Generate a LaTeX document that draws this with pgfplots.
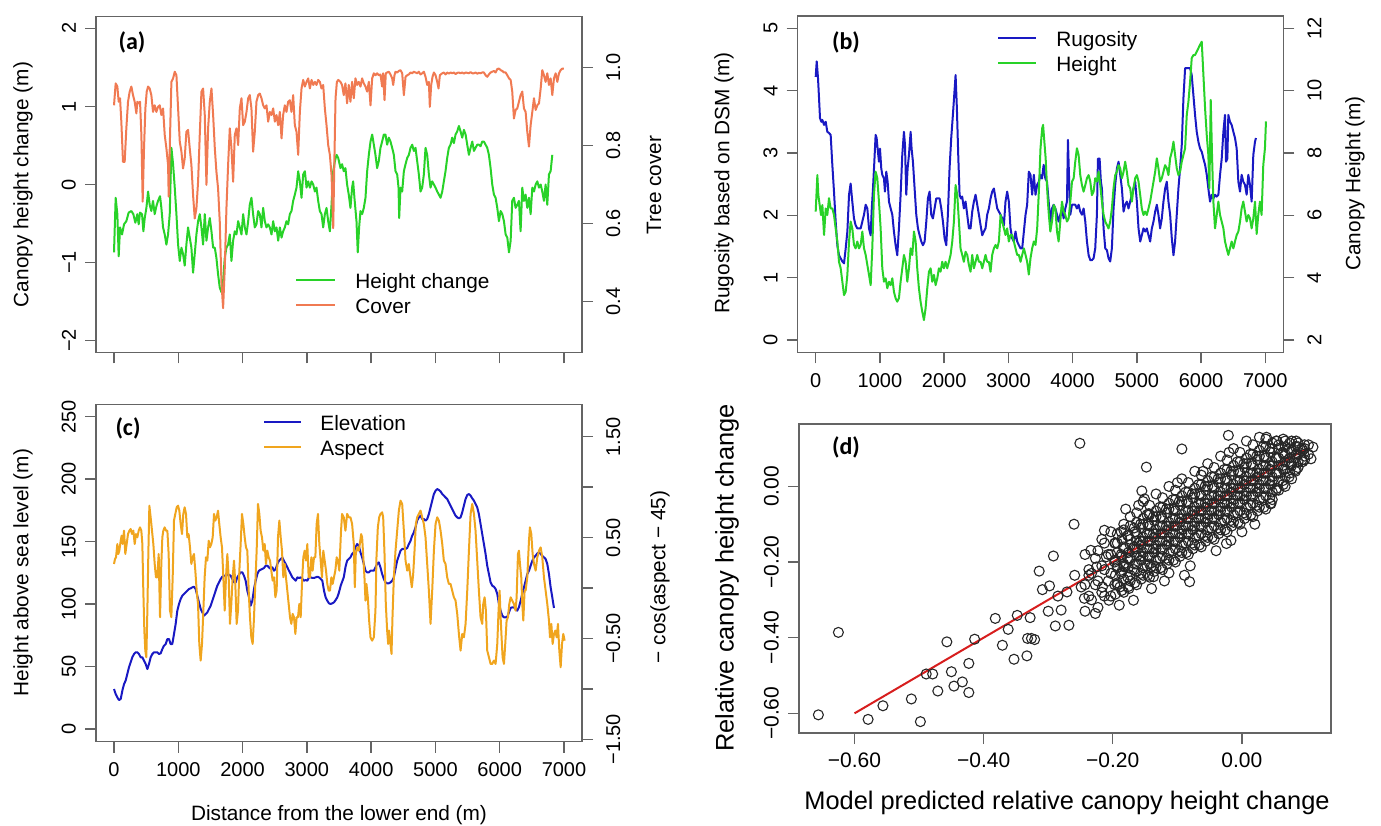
\documentclass[border=0pt]{standalone}
\usepackage{fontspec}
\setmainfont{Liberation Sans}
\newfontfamily\plab{Carlito}
\usepackage{pgfplots}
\pgfplotsset{compat=1.18}

\definecolor{hgreen}{RGB}{40,210,40}
\definecolor{coverc}{RGB}{240,122,82}
\definecolor{rblue}{RGB}{25,25,195}
\definecolor{aspc}{RGB}{240,165,30}
\definecolor{fitred}{RGB}{215,30,30}
\definecolor{frame}{RGB}{100,100,100}

\pgfplotsset{
  base/.style={scale only axis, anchor=south west, tick align=outside, major tick length=5.5pt,
    axis line style={draw=frame, line width=0.7pt},
    every tick/.append style={draw=frame, line width=0.7pt},
    tick label style={font=\fontsize{10}{12}\selectfont},
    xmin=-280, xmax=7280, xtick={0,1000,...,7000}},
  leftbox/.style={base, xtick pos=left, ytick pos=left,
    yticklabel style={rotate=90, anchor=south}, yticklabel shift=1pt, xticklabel shift=1.5pt},
  rightax/.style={base, axis x line=none, axis y line*=right,
    yticklabel style={rotate=90, anchor=north}, yticklabel shift=3pt},
  ser/.style={line width=1pt, line join=round},
}

\begin{document}
\begin{tikzpicture}
\useasboundingbox (0,0) rectangle (690.5pt,412.5pt);

% ---------------- (a)
\begin{axis}[leftbox, at={(48pt,236.35pt)}, width=243pt, height=167.8pt,
  ymin=-2.15, ymax=2.15, ytick={-2,-1,0,1,2}, yticklabels={−2,−1,0,1,2}, xticklabels={,,,,,,,}]
\addplot[ser, hgreen] coordinates {
(0,-0.87) (26,-0.17) (52,-0.38) (73,-0.92) (94,-0.55) (125,-0.64) (156,-0.51) (192,-0.47) (228,-0.36) (270,-0.34)
(301,-0.38) (332,-0.49) (363,-0.38) (384,-0.51) (405,-0.36) (436,-0.38) (457,-0.60) (478,-0.43) (504,-0.30) (530,-0.09)
(555,-0.26) (581,-0.34) (607,-0.21) (633,-0.38) (659,-0.28) (685,-0.21) (716,-0.15) (737,-0.30) (763,-0.55) (789,-0.64)
(815,-0.77) (841,-0.64) (867,-0.38) (893,0.47) (919,0.26) (945,-0.04) (971,-0.38) (997,-0.77) (1023,-0.98) (1049,-0.81)
(1074,-0.89) (1100,-1.04) (1126,-0.77) (1152,-0.55) (1178,-0.68) (1204,-0.81) (1230,-1.13) (1256,-0.89) (1282,-0.64) (1308,-0.47)
(1334,-0.38) (1360,-0.55) (1386,-0.77) (1412,-0.38) (1438,-0.72) (1464,-0.55) (1490,-0.43) (1516,-0.60) (1542,-0.81) (1568,-0.81)
(1593,-0.94) (1619,-1.15) (1645,-1.32) (1671,-1.38) (1697,-1.24) (1723,-0.94) (1749,-0.81) (1775,-0.77) (1801,-0.64) (1827,-0.98)
(1853,-0.72) (1879,-0.60) (1905,-0.64) (1931,-0.47) (1957,-0.55) (1983,-0.64) (2009,-0.38) (2035,-0.55) (2061,-0.64) (2087,-0.47)
(2112,-0.26) (2138,-0.17) (2164,-0.38) (2190,-0.55) (2216,-0.51) (2242,-0.34) (2268,-0.38) (2294,-0.55) (2320,-0.30) (2346,-0.47)
(2372,-0.55) (2398,-0.51) (2424,-0.55) (2450,-0.64) (2476,-0.47) (2502,-0.60) (2528,-0.55) (2554,-0.72) (2580,-0.55) (2606,-0.68)
(2631,-0.60) (2657,-0.55) (2683,-0.47) (2709,-0.51) (2735,-0.38) (2761,-0.34) (2787,-0.21) (2813,-0.13) (2839,-0.04) (2865,0.17)
(2891,0.04) (2917,-0.17) (2943,0.13) (2969,0.17) (2995,-0.04) (3021,0.04) (3047,-0.04) (3073,0.04) (3099,0.00) (3125,-0.09)
(3150,-0.04) (3176,-0.21) (3202,-0.34) (3228,-0.38) (3254,-0.55) (3280,-0.38) (3306,-0.30) (3332,-0.47) (3358,-0.60) (3384,-0.26)
(3410,0.17) (3436,0.30) (3462,0.38) (3488,0.34) (3523,0.21) (3548,0.26) (3574,0.17) (3600,0.21) (3626,0.00) (3652,-0.13)
(3678,-0.30) (3704,-0.04) (3720,0.04) (3740,-0.17) (3772,-0.47) (3792,-0.87) (3813,-0.55) (3834,-0.34) (3860,-0.38) (3886,-0.30)
(3912,-0.17) (3938,0.17) (3964,0.38) (3990,0.55) (4016,0.64) (4042,0.51) (4067,0.38) (4093,0.21) (4119,0.30) (4145,0.47)
(4171,0.55) (4197,0.64) (4223,0.64) (4249,0.51) (4275,0.60) (4301,0.55) (4327,0.47) (4353,0.38) (4379,0.17) (4405,0.13)
(4426,-0.04) (4436,-0.43) (4457,-0.04) (4483,-0.09) (4509,0.17) (4535,0.26) (4561,0.34) (4587,0.38) (4613,0.47) (4639,0.51)
(4664,0.43) (4690,0.47) (4716,0.30) (4742,0.13) (4768,-0.09) (4794,-0.04) (4820,0.13) (4846,0.47) (4872,0.38) (4898,0.13)
(4924,-0.04) (4950,0.04) (4976,0.00) (5002,-0.04) (5028,-0.09) (5054,-0.13) (5080,-0.17) (5106,-0.09) (5131,0.04) (5157,0.17)
(5183,0.34) (5209,0.47) (5235,0.51) (5261,0.60) (5287,0.53) (5313,0.64) (5339,0.68) (5365,0.75) (5391,0.68) (5417,0.60)
(5443,0.70) (5469,0.64) (5495,0.51) (5521,0.38) (5547,0.47) (5573,0.55) (5599,0.43) (5624,0.47) (5650,0.51) (5676,0.51)
(5702,0.49) (5728,0.55) (5754,0.55) (5780,0.51) (5806,0.47) (5832,0.38) (5858,0.21) (5884,0.00) (5910,-0.13) (5936,-0.17)
(5962,-0.30) (5988,-0.47) (6014,-0.34) (6040,-0.38) (6066,-0.47) (6092,-0.64) (6118,-0.68) (6144,-0.87) (6170,-0.72) (6195,-0.21)
(6221,-0.17) (6247,-0.30) (6273,-0.26) (6299,-0.21) (6325,-0.60) (6351,-0.04) (6377,-0.21) (6403,-0.13) (6429,-0.30) (6455,-0.17)
(6481,-0.38) (6507,-0.04) (6533,-0.09) (6559,0.00) (6585,0.04) (6611,-0.04) (6637,0.00) (6662,-0.09) (6688,-0.21) (6714,0.00)
(6740,-0.26) (6766,0.13) (6792,0.17) (6818,0.38)
};
\end{axis}
\begin{axis}[rightax, at={(48pt,236.35pt)}, width=243pt, height=167.8pt,
  ymin=0.27, ymax=1.13, ytick={0.4,0.6,0.8,1.0}, yticklabels={0.4,0.6,0.8,1.0}]
\addplot[ser, coverc] coordinates {
(0,0.903) (26,0.959) (52,0.951) (73,0.912) (94,0.921) (114,0.861) (140,0.758) (166,0.758) (192,0.844) (218,0.912)
(244,0.938) (270,0.951) (296,0.929) (322,0.912) (348,0.882) (363,0.912) (384,0.908) (405,0.912) (426,0.827) (446,0.656)
(467,0.793) (488,0.895) (509,0.938) (530,0.951) (555,0.946) (581,0.929) (607,0.886) (633,0.903) (659,0.886) (685,0.899)
(711,0.903) (737,0.878) (763,0.895) (789,0.827) (815,0.793) (841,0.750) (851,0.669) (872,0.827) (893,0.963) (919,0.972)
(945,0.989) (971,0.980) (997,0.895) (1023,0.810) (1049,0.784) (1074,0.741) (1100,0.767) (1126,0.835) (1152,0.840) (1178,0.793)
(1204,0.750) (1230,0.673) (1256,0.613) (1282,0.639) (1308,0.707) (1334,0.827) (1360,0.938) (1386,0.946) (1412,0.878) (1438,0.699)
(1464,0.844) (1490,0.912) (1516,0.946) (1542,0.878) (1568,0.793) (1593,0.733) (1619,0.690) (1645,0.605) (1671,0.451) (1697,0.383)
(1723,0.485) (1749,0.639) (1775,0.750) (1801,0.844) (1827,0.793) (1853,0.707) (1879,0.827) (1905,0.844) (1931,0.801) (1957,0.895)
(1983,0.921) (2009,0.852) (2035,0.861) (2061,0.886) (2087,0.921) (2112,0.929) (2138,0.895) (2164,0.784) (2190,0.835) (2216,0.912)
(2242,0.929) (2268,0.933) (2294,0.921) (2320,0.903) (2346,0.895) (2372,0.903) (2398,0.861) (2424,0.886) (2450,0.878) (2476,0.895)
(2502,0.861) (2528,0.878) (2554,0.852) (2580,0.886) (2606,0.818) (2631,0.878) (2657,0.903) (2683,0.886) (2709,0.912) (2735,0.916)
(2761,0.886) (2787,0.929) (2813,0.852) (2839,0.835) (2865,0.776) (2891,0.886) (2917,0.946) (2943,0.968) (2969,0.951) (2995,0.963)
(3021,0.972) (3047,0.946) (3073,0.968) (3099,0.955) (3125,0.963) (3150,0.955) (3176,0.968) (3202,0.963) (3228,0.946) (3254,0.955)
(3280,0.895) (3306,0.852) (3332,0.801) (3358,0.776) (3384,0.724) (3410,0.588) (3425,0.733) (3446,0.921) (3467,0.963) (3488,0.968)
(3523,0.963) (3548,0.955) (3574,0.929) (3600,0.959) (3626,0.908) (3652,0.955) (3678,0.912) (3704,0.963) (3730,0.921) (3756,0.972)
(3782,0.955) (3808,0.963) (3834,0.951) (3860,0.972) (3886,0.959) (3912,0.951) (3938,0.938) (3964,0.963) (3990,0.903) (4016,0.972)
(4042,0.985) (4067,0.980) (4093,0.985) (4119,0.980) (4145,0.982) (4171,0.951) (4187,0.985) (4208,0.916) (4228,0.985) (4249,0.987)
(4275,0.989) (4301,0.982) (4327,0.972) (4343,0.955) (4363,0.980) (4379,0.989) (4405,0.987) (4431,0.991) (4457,0.993) (4483,0.985)
(4509,0.929) (4535,0.976) (4561,0.980) (4586,0.982) (4612,0.987) (4638,0.985) (4664,0.989) (4690,0.987) (4716,0.985) (4742,0.989)
(4768,0.982) (4794,0.985) (4820,0.989) (4846,0.976) (4872,0.955) (4898,0.963) (4913,0.899) (4934,0.955) (4955,0.976) (4976,0.987)
(5002,0.980) (5028,0.963) (5048,0.946) (5069,0.980) (5105,0.985) (5131,0.987) (5157,0.982) (5183,0.987) (5209,0.984) (5235,0.987)
(5261,0.985) (5287,0.987) (5313,0.983) (5339,0.986) (5365,0.987) (5391,0.985) (5417,0.987) (5443,0.984) (5469,0.987) (5495,0.986)
(5521,0.985) (5547,0.988) (5573,0.985) (5598,0.985) (5624,0.987) (5650,0.984) (5676,0.986) (5702,0.985) (5728,0.987) (5754,0.987)
(5780,0.980) (5806,0.976) (5832,0.982) (5858,0.987) (5884,0.989) (5910,0.991) (5936,0.987) (5962,0.996) (5988,0.997) (6014,0.993)
(6040,0.991) (6066,0.987) (6092,0.987) (6118,0.980) (6144,0.972) (6170,0.968) (6195,0.938) (6221,0.869) (6247,0.891) (6273,0.895)
(6299,0.912) (6325,0.929) (6351,0.938) (6377,0.895) (6403,0.886) (6429,0.835) (6455,0.797) (6481,0.852) (6507,0.886) (6533,0.921)
(6559,0.891) (6585,0.903) (6611,0.908) (6637,0.946) (6662,0.993) (6688,0.980) (6714,0.963) (6740,0.985) (6766,0.955) (6792,0.972)
(6818,0.929) (6844,0.972) (6870,0.985) (6896,0.963) (6922,0.985) (6948,0.993) (6974,0.997) (6999,0.997)
};
\end{axis}

% ---------------- (b)
\begin{axis}[leftbox, at={(398.85pt,236.25pt)}, width=242.8pt, height=168.35pt,
  ymin=-0.2, ymax=5.2, ytick={0,1,2,3,4,5}, yticklabels={0,1,2,3,4,5},
  xticklabels={0,1000,2000,3000,4000,5000,6000,7000}]
\addplot[ser, rblue] coordinates {
(0,4.22) (16,4.47) (36,4.20) (52,3.88) (67,3.56) (88,3.50) (104,3.53) (130,3.45) (156,3.50) (181,3.34)
(207,3.32) (233,3.29) (259,2.81) (285,2.38) (311,1.90) (337,1.52) (363,1.36) (389,1.31) (415,1.26) (441,1.23)
(467,1.47) (493,1.74) (519,2.33) (544,2.51) (570,2.22) (596,1.95) (622,1.84) (648,1.79) (674,1.79) (700,1.79)
(726,1.90) (752,2.01) (778,2.17) (804,2.11) (830,1.79) (856,1.68) (871,2.06) (892,2.43) (913,2.86) (933,3.29)
(949,3.24) (964,3.07) (985,2.86) (1001,3.07) (1021,2.75) (1037,2.65) (1063,2.59) (1078,2.38) (1099,2.70) (1120,2.54)
(1141,2.22) (1167,2.11) (1193,2.01) (1218,1.74) (1244,1.52) (1270,1.36) (1296,1.79) (1322,2.33) (1348,2.97) (1374,3.34)
(1390,3.13) (1410,2.33) (1431,2.75) (1452,2.97) (1478,3.34) (1493,3.07) (1514,2.86) (1540,2.43) (1566,2.01) (1592,1.79)
(1618,1.68) (1644,1.58) (1670,1.52) (1696,1.58) (1722,1.90) (1747,2.27) (1773,2.38) (1799,2.01) (1825,1.95) (1851,2.11)
(1877,2.27) (1903,2.27) (1929,2.27) (1955,2.11) (1981,1.90) (2007,1.63) (2033,1.52) (2058,2.01) (2084,2.75) (2110,3.24)
(2136,3.61) (2157,3.93) (2178,4.25) (2198,3.72) (2219,2.97) (2240,2.33) (2261,2.27) (2281,2.30) (2307,2.11) (2333,2.22)
(2359,2.01) (2385,1.79) (2411,1.79) (2437,2.06) (2463,2.22) (2489,2.33) (2515,2.17) (2541,2.01) (2567,1.84) (2593,1.68)
(2618,1.74) (2644,1.79) (2670,2.01) (2696,2.11) (2722,2.27) (2748,2.38) (2774,2.43) (2800,2.27) (2826,2.11) (2852,2.06)
(2878,2.01) (2904,1.95) (2930,1.84) (2955,2.22) (2981,2.38) (3007,2.22) (3033,1.79) (3059,1.63) (3085,1.58) (3111,1.74)
(3137,1.58) (3163,1.52) (3189,1.47) (3215,1.47) (3241,1.74) (3267,2.01) (3292,2.17) (3318,2.70) (3344,2.65) (3370,2.33)
(3396,2.65) (3422,2.33) (3448,2.49) (3474,2.54) (3498,2.65) (3523,2.59) (3549,2.81) (3575,2.59) (3601,2.54) (3627,2.22)
(3653,1.90) (3679,2.11) (3705,2.17) (3731,2.11) (3757,2.01) (3782,1.90) (3808,2.01) (3834,2.11) (3860,1.95) (3886,2.11)
(3912,2.22) (3927,3.21) (3943,2.65) (3964,2.01) (3990,2.17) (4016,2.17) (4041,2.17) (4067,2.11) (4093,2.17) (4119,2.06)
(4145,2.01) (4171,2.11) (4197,1.90) (4223,1.58) (4249,1.36) (4275,1.28) (4300,1.28) (4326,1.31) (4352,1.47) (4378,2.01)
(4394,2.91) (4420,2.91) (4440,2.54) (4456,2.43) (4482,1.79) (4508,1.47) (4534,1.44) (4559,1.31) (4585,1.26) (4611,1.47)
(4637,2.11) (4663,2.49) (4689,2.75) (4715,2.86) (4741,2.65) (4767,2.43) (4793,2.06) (4818,2.17) (4844,2.22) (4870,2.11)
(4896,2.22) (4922,2.33) (4948,2.43) (4974,2.54) (5000,2.22) (5026,1.79) (5052,1.58) (5077,1.68) (5103,1.79) (5129,1.74)
(5155,1.79) (5181,1.68) (5207,1.58) (5233,1.79) (5259,1.90) (5285,2.06) (5311,2.17) (5336,2.01) (5362,1.79) (5388,1.95)
(5414,2.22) (5440,2.43) (5466,2.54) (5492,2.22) (5518,2.01) (5544,1.63) (5570,1.36) (5595,1.58) (5621,2.01) (5647,2.43)
(5673,2.75) (5699,3.13) (5725,3.88) (5751,4.36) (5777,4.36) (5803,4.36) (5829,4.36) (5854,4.25) (5880,3.93) (5906,3.61)
(5932,3.34) (5958,3.18) (5984,3.07) (6010,3.02) (6036,2.91) (6062,2.81) (6088,2.65) (6113,2.43) (6139,2.22) (6165,2.33)
(6191,2.27) (6217,2.33) (6243,2.30) (6269,2.33) (6295,2.65) (6321,2.91) (6347,3.34) (6372,3.61) (6388,2.86) (6409,2.91)
(6424,3.61) (6450,3.50) (6476,3.45) (6502,3.34) (6528,3.24) (6554,3.07) (6580,2.54) (6606,2.38) (6631,2.65) (6657,2.54)
(6683,2.49) (6709,2.33) (6735,2.65) (6761,2.49) (6787,2.22) (6813,2.97) (6839,3.18) (6854,3.24)
};
\end{axis}
\begin{axis}[rightax, at={(398.85pt,236.25pt)}, width=242.8pt, height=168.35pt,
  ymin=1.6, ymax=12.4, ytick={2,4,6,8,10,12}, yticklabels={2,4,6,8,10,12}]
\addplot[ser, hgreen] coordinates {
(0,6.12) (26,7.29) (41,6.65) (62,6.33) (83,6.01) (104,6.33) (130,5.37) (156,6.22) (181,6.01) (207,6.55)
(233,6.22) (259,6.22) (285,6.01) (311,5.58) (337,5.16) (363,4.51) (389,4.30) (415,3.87) (441,3.44) (467,3.55)
(493,4.09) (519,5.16) (544,5.80) (570,5.58) (596,5.05) (622,4.94) (648,5.16) (674,4.94) (700,5.05) (726,5.48)
(752,4.94) (778,4.73) (804,4.41) (830,4.09) (856,3.76) (881,4.94) (907,6.65) (933,7.40) (959,7.19) (985,6.44)
(1011,5.58) (1037,4.30) (1063,3.87) (1089,3.98) (1115,3.66) (1141,3.87) (1167,3.76) (1193,3.98) (1218,3.55) (1244,3.34)
(1270,3.23) (1296,3.34) (1322,3.87) (1348,4.30) (1374,4.73) (1400,4.51) (1426,3.87) (1452,4.30) (1478,4.94) (1504,4.73)
(1530,5.48) (1556,5.16) (1581,4.30) (1607,3.66) (1633,3.23) (1659,2.91) (1685,2.64) (1711,3.02) (1737,3.66) (1763,4.19)
(1789,4.30) (1815,3.87) (1841,4.09) (1867,3.76) (1893,3.98) (1918,4.30) (1944,4.19) (1970,4.51) (1996,4.30) (2022,4.51)
(2048,4.30) (2074,4.51) (2100,4.73) (2126,5.16) (2152,5.80) (2178,6.97) (2204,6.65) (2230,5.80) (2255,4.94) (2281,4.73)
(2307,4.51) (2333,4.83) (2359,4.73) (2385,4.41) (2411,4.19) (2437,4.73) (2463,4.30) (2489,4.51) (2515,4.73) (2541,4.51)
(2567,4.51) (2593,4.30) (2618,4.51) (2644,4.73) (2670,4.51) (2696,4.51) (2722,4.19) (2748,4.73) (2774,4.94) (2800,5.05)
(2826,4.94) (2852,5.16) (2878,6.01) (2904,5.80) (2930,5.58) (2955,5.37) (2981,5.58) (3007,5.16) (3033,5.37) (3059,5.37)
(3085,5.16) (3111,4.94) (3137,4.73) (3163,4.73) (3189,4.51) (3215,4.73) (3241,4.94) (3267,4.73) (3292,4.51) (3318,4.10)
(3344,4.62) (3370,4.94) (3396,5.16) (3422,5.05) (3448,5.58) (3474,6.76) (3500,8.15) (3526,8.79) (3540,8.90) (3560,8.36)
(3580,7.83) (3600,6.97) (3615,6.44) (3630,6.01) (3653,5.48) (3679,5.80) (3705,6.33) (3731,6.22) (3757,5.48) (3782,5.16)
(3808,5.80) (3834,6.44) (3860,6.12) (3886,6.01) (3912,5.80) (3938,5.90) (3964,6.44) (3990,7.08) (4016,7.19) (4041,7.72)
(4067,8.15) (4093,7.94) (4119,7.29) (4145,6.97) (4171,6.76) (4197,6.97) (4223,7.19) (4249,7.29) (4275,7.08) (4300,6.65)
(4326,6.76) (4352,7.19) (4378,7.08) (4404,7.40) (4430,6.97) (4456,6.44) (4482,6.01) (4508,5.80) (4534,5.69) (4559,5.58)
(4585,5.80) (4611,6.22) (4637,6.87) (4663,7.29) (4689,7.40) (4715,7.61) (4741,7.51) (4767,7.19) (4793,7.40) (4818,7.72)
(4844,7.40) (4870,6.97) (4896,6.87) (4922,6.44) (4948,6.87) (4974,7.19) (5000,7.29) (5026,7.08) (5052,6.65) (5077,6.22)
(5103,6.01) (5129,6.12) (5155,6.01) (5181,6.22) (5207,6.44) (5233,6.76) (5259,7.08) (5285,7.40) (5311,7.83) (5336,7.51)
(5362,7.08) (5388,7.19) (5414,7.40) (5440,7.61) (5466,7.51) (5492,7.29) (5518,7.83) (5544,8.04) (5570,8.36) (5595,7.94)
(5621,7.51) (5647,7.29) (5673,7.40) (5699,7.72) (5725,7.94) (5751,8.15) (5777,9.22) (5803,9.65) (5829,10.29) (5854,11.04)
(5880,11.14) (5906,11.14) (5932,11.25) (5958,11.36) (5984,11.47) (6010,11.57) (6036,10.50) (6062,9.43) (6088,8.57) (6113,7.94)
(6129,6.87) (6150,9.70) (6170,7.94) (6191,6.44) (6217,5.58) (6243,6.01) (6269,6.44) (6295,6.01) (6321,5.80) (6347,5.58)
(6372,5.16) (6398,4.94) (6424,4.73) (6450,4.94) (6476,5.16) (6502,4.94) (6528,5.16) (6554,5.37) (6580,5.48) (6606,5.80)
(6631,6.22) (6657,6.44) (6683,6.12) (6709,5.80) (6735,6.01) (6761,5.90) (6787,5.58) (6813,5.90) (6839,6.44) (6865,5.40)
(6890,6.01) (6916,6.44) (6942,6.01) (6968,7.61) (6994,8.15) (7010,9.01)
};
\end{axis}

% ---------------- (c)
\begin{axis}[leftbox, at={(48pt,41.75pt)}, width=243pt, height=168.65pt,
  ymin=-10, ymax=260, ytick={0,50,...,250}, yticklabels={0,50,100,150,200,250},
  xticklabels={0,1000,2000,3000,4000,5000,6000,7000}]
\addplot[ser, rblue] coordinates {
(0,32.0) (26,28.0) (52,25.3) (78,23.2) (104,24.0) (130,30.7) (156,36.0) (181,38.7) (207,44.0) (233,49.4)
(259,53.4) (285,57.4) (311,60.0) (337,61.4) (363,61.4) (389,60.0) (415,57.4) (441,57.4) (467,54.7) (493,52.0)
(519,48.0) (544,52.0) (570,57.4) (596,60.0) (622,61.4) (648,61.4) (674,61.4) (700,60.0) (726,60.6) (752,64.0)
(778,66.7) (804,68.0) (830,72.0) (856,72.0) (881,68.0) (907,68.0) (933,76.0) (959,84.0) (985,94.7) (1011,100.1)
(1037,104.1) (1063,106.7) (1089,108.1) (1115,109.4) (1141,110.7) (1167,112.1) (1193,112.6) (1218,113.4) (1244,113.9) (1270,112.1)
(1296,106.7) (1322,101.4) (1348,96.1) (1374,93.4) (1400,90.7) (1426,92.0) (1452,93.4) (1478,96.1) (1504,98.7) (1530,102.7)
(1556,106.7) (1581,110.7) (1607,114.7) (1633,117.4) (1659,120.1) (1685,121.9) (1711,122.7) (1737,122.7) (1763,123.5) (1789,123.5)
(1815,122.7) (1841,120.1) (1867,117.4) (1893,117.4) (1918,121.4) (1944,123.5) (1970,125.4) (1996,125.4) (2022,122.7) (2048,118.7)
(2074,110.7) (2100,105.4) (2126,98.7) (2152,102.7) (2178,112.1) (2204,118.7) (2230,124.1) (2255,126.7) (2281,127.5) (2307,128.1)
(2333,128.9) (2359,130.7) (2385,130.7) (2411,129.4) (2437,128.1) (2463,129.4) (2489,126.7) (2515,128.1) (2541,132.1) (2567,134.7)
(2593,136.1) (2618,137.4) (2644,134.7) (2670,132.1) (2696,129.4) (2722,126.7) (2748,124.1) (2774,121.4) (2800,120.1) (2826,118.7)
(2852,121.4) (2878,120.9) (2904,121.4) (2930,120.1) (2955,118.7) (2981,119.3) (3007,118.7) (3033,121.4) (3059,121.4) (3085,120.9)
(3111,120.9) (3137,121.4) (3163,121.9) (3189,121.4) (3215,120.1) (3241,118.7) (3267,110.7) (3292,105.4) (3318,102.7) (3344,100.6)
(3370,100.1) (3396,100.6) (3422,101.4) (3448,103.3) (3474,105.4) (3500,109.4) (3526,114.7) (3574,121.4) (3600,129.4) (3626,134.7)
(3652,136.1) (3678,137.4) (3704,140.1) (3730,141.4) (3756,145.4) (3782,148.1) (3808,146.7) (3834,141.4) (3860,137.4) (3886,132.1)
(3912,126.7) (3938,125.4) (3964,125.4) (3990,126.7) (4016,126.7) (4042,126.7) (4067,129.4) (4093,132.1) (4119,133.4) (4145,129.4)
(4171,124.1) (4197,120.1) (4223,117.4) (4249,116.6) (4275,116.6) (4301,117.4) (4327,118.7) (4353,121.4) (4379,128.1) (4405,134.7)
(4431,138.7) (4457,142.7) (4483,144.1) (4509,144.1) (4535,144.1) (4561,144.9) (4587,148.1) (4613,150.7) (4638,154.7) (4664,157.4)
(4690,161.4) (4716,166.8) (4742,169.4) (4768,170.8) (4794,168.1) (4820,168.1) (4846,166.8) (4872,168.1) (4898,172.1) (4924,177.4)
(4950,182.8) (4976,188.1) (5002,190.8) (5028,192.1) (5054,191.3) (5080,190.2) (5106,188.1) (5131,186.8) (5157,185.4) (5183,184.1)
(5209,181.4) (5235,178.8) (5261,176.1) (5287,173.4) (5313,170.8) (5339,169.4) (5365,168.6) (5391,169.4) (5417,173.4) (5443,178.8)
(5469,184.1) (5495,187.3) (5521,188.1) (5547,186.8) (5573,184.6) (5599,182.8) (5624,180.1) (5650,177.4) (5676,172.1) (5702,164.1)
(5728,156.1) (5754,148.1) (5780,140.1) (5806,130.7) (5832,124.1) (5858,117.4) (5884,114.7) (5910,113.9) (5936,112.1) (5962,108.1)
(5988,100.1) (6014,94.7) (6040,90.7) (6066,89.4) (6092,89.4) (6118,89.9) (6144,93.4) (6170,96.9) (6195,97.4) (6221,97.4)
(6247,96.1) (6273,94.7) (6299,97.4) (6325,102.7) (6351,108.1) (6377,113.4) (6403,118.7) (6429,124.1) (6455,126.7) (6481,130.7)
(6507,134.7) (6533,137.4) (6559,138.7) (6585,140.6) (6611,141.4) (6637,140.1) (6662,138.7) (6688,137.4) (6714,136.1) (6740,132.1)
(6766,124.1) (6792,113.4) (6818,105.4) (6844,96.9)
};
\end{axis}
\begin{axis}[rightax, at={(48pt,41.75pt)}, width=243pt, height=168.65pt,
  ymin=-1.522, ymax=1.822, ytick={-1.5,-1,-0.5,0,0.5,1,1.5}, yticklabels={−1.50,,−0.50,,0.50,,1.50}]
\addplot[ser, aspc] coordinates {
(0,0.238) (16,0.288) (31,0.304) (52,0.436) (67,0.337) (83,0.370) (104,0.469) (119,0.519) (135,0.436) (156,0.568)
(176,0.337) (197,0.436) (218,0.535) (239,0.568) (259,0.585) (280,0.535) (301,0.568) (322,0.436) (342,0.535) (363,0.502)
(384,0.568) (404,0.601) (425,0.568) (441,0.436) (456,-0.026) (472,-0.422) (487,-0.621) (503,-0.687) (519,-0.224) (534,0.337)
(550,0.816) (570,0.701) (591,0.568) (612,0.436) (633,0.238) (653,0.106) (674,0.106) (695,0.337) (716,-0.290) (736,0.238)
(752,0.502) (767,0.568) (788,0.601) (809,0.568) (830,0.568) (850,0.337) (871,-0.224) (892,-0.290) (913,0.106) (933,0.668)
(954,0.734) (975,0.800) (996,0.816) (1016,0.767) (1037,0.634) (1058,0.535) (1078,0.734) (1099,0.800) (1120,0.734) (1141,0.502)
(1161,0.535) (1182,0.403) (1203,0.238) (1224,0.304) (1244,0.337) (1265,0.172) (1286,-0.026) (1307,-0.158) (1327,-0.555) (1348,-0.720)
(1369,-0.555) (1390,-0.224) (1410,0.106) (1431,0.304) (1452,0.271) (1473,0.469) (1493,0.403) (1514,0.436) (1535,0.502) (1556,0.734)
(1576,0.668) (1597,0.701) (1618,0.767) (1638,0.634) (1659,0.502) (1680,0.403) (1701,0.106) (1722,-0.224) (1742,0.106) (1763,0.337)
(1784,0.106) (1804,-0.356) (1825,-0.158) (1846,0.106) (1867,0.271) (1887,0.040) (1908,-0.356) (1929,-0.224) (1950,0.172) (1970,0.436)
(1991,0.734) (2012,0.634) (2033,0.502) (2053,0.403) (2074,0.370) (2095,-0.026) (2115,-0.290) (2136,-0.489) (2157,-0.555) (2178,-0.290)
(2198,0.040) (2219,0.370) (2240,0.833) (2261,0.734) (2281,0.568) (2302,0.502) (2323,0.370) (2344,0.436) (2364,0.238) (2385,0.370)
(2406,0.304) (2427,0.271) (2447,0.172) (2468,0.073) (2489,0.106) (2510,-0.092) (2530,-0.026) (2551,0.502) (2572,0.668) (2593,0.502)
(2613,0.370) (2634,0.106) (2655,0.238) (2675,0.106) (2696,-0.026) (2717,-0.158) (2738,-0.290) (2758,-0.356) (2779,-0.257) (2800,-0.290)
(2821,-0.456) (2841,-0.290) (2862,-0.290) (2883,-0.158) (2904,-0.290) (2924,0.040) (2945,0.304) (2966,0.370) (2987,0.271) (3007,0.436)
(3028,0.106) (3049,0.106) (3070,0.304) (3090,0.172) (3111,0.304) (3132,0.304) (3152,0.634) (3173,0.734) (3194,0.436) (3215,0.271)
(3235,0.106) (3256,0.370) (3277,0.271) (3298,0.172) (3318,0.040) (3339,-0.026) (3360,-0.026) (3381,0.106) (3401,0.040) (3422,0.106)
(3443,0.172) (3464,0.304) (3484,0.271) (3505,0.172) (3530,0.550) (3548,0.734) (3574,0.701) (3600,0.568) (3626,0.734) (3652,0.701)
(3678,0.701) (3704,0.634) (3730,0.436) (3746,0.007) (3761,0.337) (3782,0.403) (3808,0.370) (3824,0.436) (3844,0.535) (3860,0.502)
(3875,0.337) (3896,0.106) (3912,-0.125) (3927,0.040) (3948,-0.092) (3969,-0.323) (3990,-0.489) (4016,-0.522) (4042,-0.489) (4067,-0.224)
(4083,0.304) (4104,0.601) (4125,0.701) (4145,0.734) (4171,0.750) (4187,0.701) (4208,0.337) (4228,-0.158) (4249,-0.422) (4265,-0.555)
(4280,-0.422) (4301,-0.555) (4317,-0.654) (4332,-0.290) (4353,0.106) (4379,0.370) (4405,0.568) (4431,0.767) (4457,0.866) (4483,0.833)
(4509,0.568) (4535,0.271) (4561,0.172) (4586,0.238) (4612,0.106) (4633,0.007) (4654,0.139) (4675,0.370) (4695,0.634) (4716,0.701)
(4742,0.734) (4768,0.767) (4794,0.701) (4820,0.634) (4846,0.502) (4872,0.238) (4898,-0.026) (4924,-0.356) (4950,-0.026) (4976,0.370)
(5002,0.634) (5028,0.701) (5054,0.668) (5080,0.568) (5106,0.436) (5131,0.271) (5157,0.238) (5183,0.106) (5209,0.040) (5235,0.040)
(5261,-0.026) (5287,-0.092) (5313,-0.125) (5339,-0.257) (5365,-0.456) (5391,-0.621) (5417,-0.456) (5443,-0.489) (5469,-0.356) (5495,-0.026)
(5521,0.370) (5547,0.734) (5573,0.833) (5599,0.734) (5624,0.568) (5650,0.271) (5676,-0.026) (5702,-0.290) (5728,-0.356) (5744,-0.158)
(5765,-0.092) (5785,-0.224) (5806,-0.621) (5832,-0.687) (5858,-0.753) (5884,-0.753) (5910,-0.720) (5936,-0.753) (5962,-0.555) (5982,-0.224)
(5998,-0.026) (6014,-0.290) (6029,-0.489) (6045,-0.687) (6066,-0.753) (6086,-0.555) (6107,-0.323) (6128,-0.290) (6149,-0.158) (6170,-0.092)
(6195,-0.125) (6221,-0.158) (6247,-0.224) (6263,-0.092) (6284,0.337) (6299,0.370) (6315,0.238) (6335,0.106) (6351,-0.158) (6367,-0.323)
(6387,-0.026) (6403,-0.026) (6429,0.106) (6455,0.469) (6470,0.601) (6491,0.535) (6512,0.337) (6533,0.238) (6559,0.172) (6585,0.304)
(6611,0.370) (6637,0.403) (6662,0.304) (6688,0.106) (6714,-0.026) (6740,-0.158) (6766,-0.323) (6782,-0.489) (6803,-0.356) (6823,-0.555)
(6844,-0.456) (6865,-0.422) (6886,-0.489) (6906,-0.356) (6927,-0.621) (6948,-0.786) (6969,-0.555) (6989,-0.456) (7010,-0.522)
};
\end{axis}

% ---------------- (d)
\begin{axis}[scale only axis, anchor=south west, at={(399.5pt,46pt)}, width=266pt, height=154.5pt,
  tick align=outside, major tick length=5.5pt,
  axis line style={draw=frame, line width=0.7pt},
  every tick/.append style={draw=frame, line width=0.7pt},
  tick label style={font=\fontsize{10.5}{12}\selectfont},
  xtick pos=left, ytick pos=left,
  yticklabel style={rotate=90, anchor=south}, yticklabel shift=1pt, xticklabel shift=1pt,
  xmin=-0.686, xmax=0.138, ymin=-0.652, ymax=0.165,
  xtick={-0.6,-0.4,-0.2,0}, xticklabels={−0.60,−0.40,−0.20,0.00},
  ytick={-0.6,-0.4,-0.2,0}, yticklabels={−0.60,−0.40,−0.20,0.00}]
\addplot[only marks, mark=o, mark size=2.5pt, mark options={draw=black!85, line width=0.55pt}] coordinates {
(-0.656,-0.604) (-0.625,-0.386) (-0.579,-0.616) (-0.556,-0.580) (-0.512,-0.562) (-0.498,-0.622) (-0.489,-0.496) (-0.479,-0.496)
(-0.471,-0.541) (-0.457,-0.411) (-0.450,-0.490) (-0.446,-0.528) (-0.433,-0.517) (-0.423,-0.468) (-0.423,-0.545) (-0.414,-0.404)
(-0.382,-0.349) (-0.371,-0.420) (-0.362,-0.378) (-0.353,-0.457) (-0.348,-0.341) (-0.333,-0.448) (-0.332,-0.402) (-0.328,-0.347)
(-0.326,-0.402) (-0.321,-0.405) (-0.314,-0.224) (-0.309,-0.273) (-0.300,-0.330) (-0.298,-0.263) (-0.292,-0.184) (-0.289,-0.369)
(-0.285,-0.290) (-0.280,-0.327) (-0.271,-0.279) (-0.268,-0.367) (-0.260,-0.100) (-0.259,-0.235) (-0.251,0.114) (-0.249,-0.266)
(-0.244,-0.296) (-0.237,-0.235) (-0.234,-0.169) (-0.227,-0.336) (-0.225,-0.213) (-0.216,-0.266) (-0.213,-0.116) (-0.210,-0.186)
(-0.206,-0.301) (-0.190,-0.314) (-0.189,-0.266) (-0.182,-0.213) (-0.175,-0.270) (-0.168,-0.301) (-0.155,-0.012) (-0.151,-0.033)
(-0.148,0.051) (-0.144,-0.072) (-0.141,-0.213) (-0.137,-0.239) (-0.113,-0.229) (-0.093,0.099) (-0.089,-0.235) (-0.081,-0.252)
(-0.024,-0.151) (-0.017,-0.143) (-0.021,0.135) (0.038,0.130) (0.045,-0.046) (0.110,0.104) (0.107,0.073)
(-0.12,-0.25) (-0.10,0.01) (-0.08,-0.21) (-0.06,0.04) (-0.04,-0.17) (-0.02,0.09) (0.0,-0.12) (-0.14,-0.27) (-0.16,-0.05) (-0.18,-0.06) (0.02,-0.10)
(-0.243,-0.33) (-0.237,-0.29) (-0.243,-0.26) (-0.237,-0.22) (-0.243,-0.18)
(-0.233,-0.30) (-0.227,-0.26) (-0.233,-0.23) (-0.227,-0.19)
(-0.223,-0.32) (-0.217,-0.28) (-0.223,-0.25) (-0.217,-0.21) (-0.223,-0.17) (-0.217,-0.14)
(-0.213,-0.29) (-0.207,-0.25) (-0.213,-0.22) (-0.207,-0.18) (-0.213,-0.15)
(-0.203,-0.29) (-0.197,-0.26) (-0.203,-0.23) (-0.197,-0.20) (-0.203,-0.18) (-0.197,-0.15) (-0.203,-0.12)
(-0.193,-0.26) (-0.187,-0.23) (-0.193,-0.21) (-0.187,-0.18) (-0.193,-0.15) (-0.187,-0.12)
(-0.183,-0.28) (-0.177,-0.24) (-0.183,-0.21) (-0.177,-0.19) (-0.183,-0.16) (-0.177,-0.13) (-0.183,-0.10)
(-0.173,-0.25) (-0.167,-0.22) (-0.173,-0.19) (-0.167,-0.16) (-0.173,-0.14) (-0.167,-0.11) (-0.173,-0.08)
(-0.163,-0.26) (-0.157,-0.23) (-0.163,-0.205) (-0.157,-0.185) (-0.163,-0.165) (-0.157,-0.145) (-0.163,-0.125) (-0.157,-0.10) (-0.163,-0.07)
(-0.153,-0.235) (-0.147,-0.21) (-0.153,-0.185) (-0.147,-0.165) (-0.153,-0.145) (-0.147,-0.125) (-0.153,-0.10) (-0.147,-0.075) (-0.153,-0.04)
(-0.143,-0.24) (-0.137,-0.21) (-0.143,-0.185) (-0.137,-0.165) (-0.143,-0.145) (-0.137,-0.125) (-0.143,-0.105) (-0.137,-0.08) (-0.143,-0.05)
(-0.133,-0.215) (-0.127,-0.19) (-0.133,-0.165) (-0.127,-0.145) (-0.133,-0.125) (-0.127,-0.105) (-0.133,-0.08) (-0.127,-0.055) (-0.133,-0.02)
(-0.123,-0.22) (-0.117,-0.19) (-0.123,-0.165) (-0.117,-0.145) (-0.123,-0.125) (-0.117,-0.105) (-0.123,-0.085) (-0.117,-0.06) (-0.123,-0.03)
(-0.113,-0.195) (-0.107,-0.17) (-0.113,-0.145) (-0.107,-0.125) (-0.113,-0.105) (-0.107,-0.085) (-0.113,-0.06) (-0.107,-0.035) (-0.113,0.0)
(-0.103,-0.20) (-0.097,-0.17) (-0.103,-0.145) (-0.097,-0.125) (-0.103,-0.105) (-0.097,-0.085) (-0.103,-0.065) (-0.097,-0.04) (-0.103,-0.01)
(-0.093,-0.175) (-0.087,-0.15) (-0.093,-0.125) (-0.087,-0.105) (-0.093,-0.085) (-0.087,-0.065) (-0.093,-0.04) (-0.087,-0.015) (-0.093,0.02)
(-0.083,-0.18) (-0.077,-0.15) (-0.083,-0.125) (-0.077,-0.105) (-0.083,-0.085) (-0.077,-0.065) (-0.083,-0.045) (-0.077,-0.02) (-0.083,0.01)
(-0.073,-0.155) (-0.067,-0.13) (-0.073,-0.105) (-0.067,-0.085) (-0.073,-0.065) (-0.067,-0.045) (-0.073,-0.02) (-0.067,0.005) (-0.073,0.04)
(-0.063,-0.16) (-0.057,-0.13) (-0.063,-0.105) (-0.057,-0.085) (-0.063,-0.065) (-0.057,-0.045) (-0.063,-0.025) (-0.057,0.0) (-0.063,0.03)
(-0.053,-0.135) (-0.047,-0.11) (-0.053,-0.085) (-0.047,-0.065) (-0.053,-0.045) (-0.047,-0.025) (-0.053,0.0) (-0.047,0.025) (-0.053,0.06)
(-0.043,-0.14) (-0.037,-0.11) (-0.043,-0.085) (-0.037,-0.065) (-0.043,-0.045) (-0.037,-0.025) (-0.043,-0.005) (-0.037,0.02) (-0.043,0.05)
(-0.033,-0.115) (-0.027,-0.09) (-0.033,-0.065) (-0.027,-0.045) (-0.033,-0.025) (-0.027,-0.005) (-0.033,0.02) (-0.027,0.045) (-0.033,0.08)
(-0.023,-0.12) (-0.017,-0.09) (-0.023,-0.065) (-0.017,-0.045) (-0.023,-0.025) (-0.017,-0.005) (-0.023,0.015) (-0.017,0.04) (-0.023,0.07)
(-0.013,-0.095) (-0.007,-0.07) (-0.013,-0.045) (-0.007,-0.025) (-0.013,-0.005) (-0.007,0.015) (-0.013,0.04) (-0.007,0.065) (-0.013,0.10)
(-0.003,-0.10) (0.003,-0.07) (-0.003,-0.045) (0.003,-0.025) (-0.003,-0.005) (0.003,0.015) (-0.003,0.035) (0.003,0.06) (-0.003,0.09)
(0.007,-0.075) (0.013,-0.05) (0.007,-0.025) (0.013,-0.005) (0.007,0.015) (0.013,0.035) (0.007,0.06) (0.013,0.085) (0.007,0.12)
(0.017,-0.08) (0.023,-0.05) (0.017,-0.025) (0.023,-0.005) (0.017,0.015) (0.023,0.035) (0.017,0.055) (0.023,0.08) (0.017,0.11)
(0.027,-0.055) (0.033,-0.03) (0.027,-0.005) (0.033,0.015) (0.027,0.035) (0.033,0.055) (0.027,0.08) (0.033,0.105) (0.027,0.13)
(0.037,-0.06) (0.043,-0.03) (0.037,-0.005) (0.043,0.015) (0.037,0.035) (0.043,0.055) (0.037,0.075) (0.043,0.10) (0.037,0.125)
(0.047,-0.035) (0.053,-0.01) (0.047,0.015) (0.053,0.035) (0.047,0.055) (0.053,0.075) (0.047,0.10) (0.053,0.12)
(0.057,-0.01) (0.063,0.015) (0.057,0.035) (0.063,0.055) (0.057,0.075) (0.063,0.09) (0.057,0.11)
(0.067,0.0) (0.073,0.025) (0.067,0.045) (0.073,0.065) (0.067,0.085) (0.073,0.10) (0.067,0.12)
(0.077,0.02) (0.083,0.04) (0.077,0.06) (0.083,0.075) (0.077,0.09) (0.083,0.105) (0.077,0.12)
(0.087,0.05) (0.093,0.07) (0.087,0.085) (0.093,0.10) (0.087,0.115)
(0.097,0.07) (0.103,0.085) (0.097,0.10) (0.103,0.11)
(-0.196,-0.285) (-0.193,-0.255) (-0.196,-0.235) (-0.193,-0.215) (-0.196,-0.195) (-0.193,-0.175) (-0.196,-0.15) (-0.193,-0.125)
(-0.186,-0.275) (-0.183,-0.245) (-0.186,-0.225) (-0.183,-0.205) (-0.186,-0.185) (-0.183,-0.165) (-0.186,-0.14) (-0.183,-0.115)
(-0.176,-0.265) (-0.173,-0.235) (-0.176,-0.215) (-0.173,-0.195) (-0.176,-0.175) (-0.173,-0.155) (-0.176,-0.13) (-0.173,-0.105)
(-0.166,-0.255) (-0.163,-0.225) (-0.166,-0.205) (-0.163,-0.185) (-0.166,-0.165) (-0.163,-0.145) (-0.166,-0.12) (-0.163,-0.095)
(-0.156,-0.245) (-0.153,-0.215) (-0.156,-0.195) (-0.153,-0.175) (-0.156,-0.155) (-0.153,-0.135) (-0.156,-0.11) (-0.153,-0.085)
(-0.146,-0.235) (-0.143,-0.205) (-0.146,-0.185) (-0.143,-0.165) (-0.146,-0.145) (-0.143,-0.125) (-0.146,-0.10) (-0.143,-0.075)
(-0.136,-0.225) (-0.133,-0.195) (-0.136,-0.175) (-0.133,-0.155) (-0.136,-0.135) (-0.133,-0.115) (-0.136,-0.09) (-0.133,-0.065)
(-0.126,-0.215) (-0.123,-0.185) (-0.126,-0.165) (-0.123,-0.145) (-0.126,-0.125) (-0.123,-0.105) (-0.126,-0.08) (-0.123,-0.055)
(-0.116,-0.205) (-0.113,-0.175) (-0.116,-0.155) (-0.113,-0.135) (-0.116,-0.115) (-0.113,-0.095) (-0.116,-0.07) (-0.113,-0.045)
(-0.106,-0.195) (-0.103,-0.165) (-0.106,-0.145) (-0.103,-0.125) (-0.106,-0.105) (-0.103,-0.085) (-0.106,-0.06) (-0.103,-0.035)
(-0.096,-0.185) (-0.093,-0.155) (-0.096,-0.135) (-0.093,-0.115) (-0.096,-0.095) (-0.093,-0.075) (-0.096,-0.05) (-0.093,-0.025)
(-0.086,-0.175) (-0.083,-0.145) (-0.086,-0.125) (-0.083,-0.105) (-0.086,-0.085) (-0.083,-0.065) (-0.086,-0.04) (-0.083,-0.015)
(-0.076,-0.165) (-0.073,-0.135) (-0.076,-0.115) (-0.073,-0.095) (-0.076,-0.075) (-0.073,-0.055) (-0.076,-0.03) (-0.073,-0.005)
(-0.066,-0.155) (-0.063,-0.125) (-0.066,-0.105) (-0.063,-0.085) (-0.066,-0.065) (-0.063,-0.045) (-0.066,-0.02) (-0.063,0.005)
(-0.056,-0.145) (-0.053,-0.115) (-0.056,-0.095) (-0.053,-0.075) (-0.056,-0.055) (-0.053,-0.035) (-0.056,-0.01) (-0.053,0.015)
(-0.046,-0.135) (-0.043,-0.105) (-0.046,-0.085) (-0.043,-0.065) (-0.046,-0.045) (-0.043,-0.025) (-0.046,0.0) (-0.043,0.025)
(-0.036,-0.125) (-0.033,-0.095) (-0.036,-0.075) (-0.033,-0.055) (-0.036,-0.035) (-0.033,-0.015) (-0.036,0.01) (-0.033,0.035)
(-0.026,-0.115) (-0.023,-0.085) (-0.026,-0.065) (-0.023,-0.045) (-0.026,-0.025) (-0.023,-0.005) (-0.026,0.02) (-0.023,0.045)
(-0.016,-0.105) (-0.013,-0.075) (-0.016,-0.055) (-0.013,-0.035) (-0.016,-0.015) (-0.013,0.005) (-0.016,0.03) (-0.013,0.055)
(-0.006,-0.095) (-0.003,-0.065) (-0.006,-0.045) (-0.003,-0.025) (-0.006,-0.005) (-0.003,0.015) (-0.006,0.04) (-0.003,0.065)
(0.004,-0.085) (0.007,-0.055) (0.004,-0.035) (0.007,-0.015) (0.004,0.005) (0.007,0.025) (0.004,0.05) (0.007,0.075)
(0.014,-0.075) (0.017,-0.045) (0.014,-0.025) (0.017,-0.005) (0.014,0.015) (0.017,0.035) (0.014,0.06) (0.017,0.085)
(0.024,-0.065) (0.027,-0.035) (0.024,-0.015) (0.027,0.005) (0.024,0.025) (0.027,0.045) (0.024,0.07) (0.027,0.095)
(0.034,-0.055) (0.037,-0.025) (0.034,-0.005) (0.037,0.015) (0.034,0.035) (0.037,0.055) (0.034,0.08) (0.037,0.105)
(0.044,-0.045) (0.047,-0.015) (0.044,0.005) (0.047,0.025) (0.044,0.045) (0.047,0.065) (0.044,0.09) (0.047,0.115)
(0.054,-0.005) (0.057,0.015) (0.054,0.035) (0.057,0.055) (0.054,0.075) (0.057,0.10) (0.054,0.12)
(0.064,0.005) (0.067,0.025) (0.064,0.045) (0.067,0.065) (0.064,0.085) (0.067,0.105) (0.064,0.125)
(0.074,0.035) (0.077,0.055) (0.074,0.075) (0.077,0.095) (0.074,0.115)
(0.084,0.045) (0.087,0.065) (0.084,0.085) (0.087,0.105) (0.084,0.12)
(0.094,0.065) (0.097,0.08) (0.094,0.095) (0.097,0.11)
};
\addplot[fitred, line width=1pt] coordinates {(-0.6,-0.6) (0.1,0.1)};
\end{axis}

% ---------------- labels, legends
\begin{scope}[every node/.style={font=\fontsize{10.4}{12}\selectfont, inner sep=0pt}]
\node[rotate=90] at (11.5pt,320.25pt) {Canopy height change (m)};
\node[rotate=90] at (327pt,320pt) {Tree cover};
\node[rotate=90] at (362pt,321pt) {Rugosity based on DSM (m)};
\node[rotate=90] at (677.5pt,320.8pt) {Canopy Height (m)};
\node[rotate=90] at (11.5pt,126.25pt) {Height above sea level (m)};
\node[rotate=90] at (330pt,124pt) {− cos(aspect − 45)};
\node[anchor=base] at (169.5pt,2.2pt) {Distance from the lower end (m)};
% legend (a)
\draw[hgreen, line width=1pt] (148pt,272.5pt) -- (167.5pt,272.5pt);
\draw[coverc, line width=1pt] (148pt,260pt) -- (167.5pt,260pt);
\node[anchor=base west] at (177.5pt,268.3pt) {Height change};
\node[anchor=base west] at (177.5pt,255.8pt) {Cover};
% legend (b)
\draw[rblue, line width=1pt] (499pt,393.6pt) -- (518pt,393.6pt);
\draw[hgreen, line width=1pt] (499pt,381.1pt) -- (518pt,381.1pt);
\node[anchor=base west] at (528pt,389.4pt) {Rugosity};
\node[anchor=base west] at (528pt,376.9pt) {Height};
% legend (c)
\draw[rblue, line width=1pt] (132pt,201.3pt) -- (150.5pt,201.3pt);
\draw[aspc, line width=1pt] (132pt,189.1pt) -- (150.5pt,189.1pt);
\node[anchor=base west] at (160pt,197.1pt) {Elevation};
\node[anchor=base west] at (160pt,184.9pt) {Aspect};
\end{scope}
\node[font=\fontsize{12.7}{14}\selectfont, inner sep=0pt, rotate=90] at (363.5pt,123.5pt) {Relative canopy height change};
\node[font=\fontsize{12.7}{14}\selectfont, inner sep=0pt, anchor=base] at (533.5pt,7.9pt) {Model predicted relative canopy height change};
\begin{scope}[every node/.style={font=\plab\bfseries\fontsize{12}{14}\selectfont, inner sep=0pt}]
\node at (66pt,391.5pt) {(a)};
\node at (423pt,391.5pt) {(b)};
\node at (64pt,198.5pt) {(c)};
\node at (423pt,189pt) {(d)};
\end{scope}
\end{tikzpicture}
\end{document}
